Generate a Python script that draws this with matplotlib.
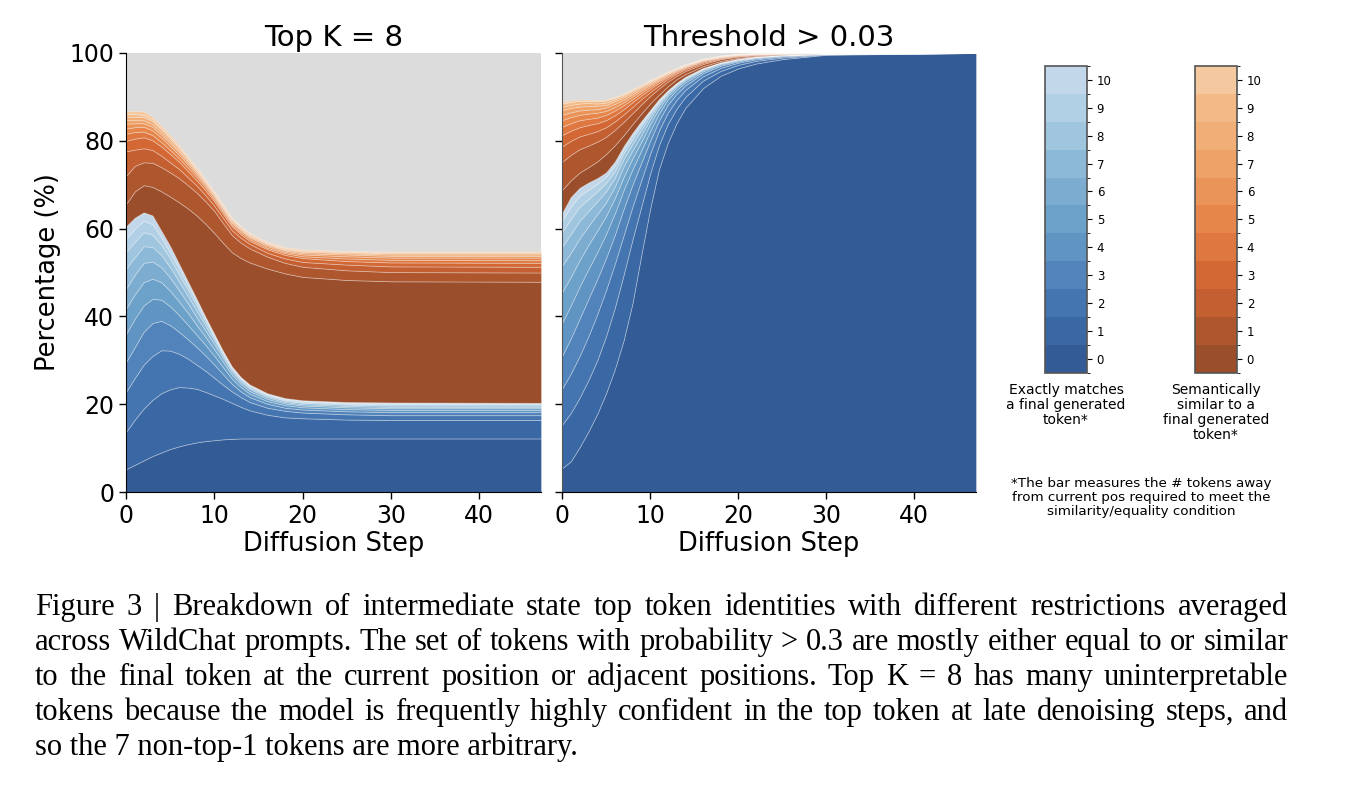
import numpy as np
import matplotlib
matplotlib.use("Agg")
import matplotlib as mpl
import matplotlib.pyplot as plt
from matplotlib.colors import ListedColormap, BoundaryNorm
from matplotlib.ticker import FixedLocator

# ---------------- data (cumulative % boundaries, distance 0..10) ----------------
topk_steps = [0, 1, 2, 3, 4, 5, 6, 7, 8, 9, 10, 11, 12, 13, 14, 16, 18, 20, 25, 30, 47]
topk_exact_cum = [
    [5.2, 13.7, 22.8, 29.6, 36.0, 41.8, 46.3, 50.9, 54.7, 57.7, 60.5],
    [6.2, 16.5, 26.0, 33.0, 39.5, 45.0, 49.5, 53.5, 57.0, 60.0, 62.5],
    [7.2, 19.0, 29.0, 36.5, 42.5, 47.8, 52.2, 56.0, 59.2, 61.8, 63.7],
    [8.2, 21.0, 31.0, 38.5, 44.0, 48.6, 52.5, 55.8, 58.6, 61.0, 63.0],
    [9.0, 22.5, 32.3, 39.0, 43.8, 47.8, 51.2, 54.0, 56.3, 58.0, 59.5],
    [9.8, 23.4, 32.2, 38.0, 42.3, 45.8, 48.8, 51.2, 53.2, 54.6, 56.0],
    [10.4, 23.9, 31.5, 36.5, 40.3, 43.4, 46.0, 48.0, 49.6, 50.9, 52.0],
    [10.9, 23.8, 30.4, 34.8, 38.1, 40.8, 43.0, 44.7, 46.1, 47.1, 48.0],
    [11.3, 23.5, 29.0, 33.0, 35.8, 38.0, 39.8, 41.3, 42.5, 43.3, 44.0],
    [11.6, 22.8, 27.6, 31.1, 33.5, 35.3, 36.8, 37.9, 38.8, 39.4, 39.9],
    [11.8, 22.0, 26.0, 29.0, 31.0, 32.5, 33.7, 34.6, 35.2, 35.6, 36.0],
    [12.0, 21.2, 24.4, 26.8, 28.4, 29.6, 30.5, 31.1, 31.5, 31.8, 32.1],
    [12.1, 20.3, 22.9, 24.6, 25.8, 26.7, 27.3, 27.8, 28.1, 28.4, 28.6],
    [12.2, 19.4, 21.6, 22.9, 23.9, 24.6, 25.1, 25.5, 25.8, 26.0, 26.2],
    [12.2, 18.6, 20.5, 21.6, 22.4, 23.0, 23.5, 23.8, 24.1, 24.3, 24.5],
    [12.2, 17.6, 19.2, 20.1, 20.7, 21.2, 21.6, 21.9, 22.1, 22.3, 22.5],
    [12.2, 17.0, 18.5, 19.2, 19.8, 20.2, 20.5, 20.8, 21.0, 21.2, 21.4],
    [12.2, 16.8, 18.1, 18.8, 19.3, 19.7, 20.0, 20.3, 20.5, 20.7, 20.9],
    [12.2, 16.5, 17.7, 18.4, 18.9, 19.3, 19.6, 19.9, 20.1, 20.3, 20.5],
    [12.2, 16.4, 17.5, 18.2, 18.7, 19.1, 19.4, 19.7, 19.95, 20.15, 20.4],
    [12.2, 16.4, 17.5, 18.2, 18.7, 19.1, 19.4, 19.7, 19.95, 20.15, 20.3],
]
topk_similar_cum = [
    [65.6, 72.0, 77.6, 80.0, 81.6, 82.8, 83.9, 84.7, 85.5, 86.1, 86.8],
    [68.5, 74.3, 78.0, 80.5, 82.0, 83.1, 84.0, 84.7, 85.5, 86.1, 86.8],
    [69.9, 75.1, 78.3, 80.8, 82.1, 83.2, 84.0, 84.7, 85.4, 85.9, 86.7],
    [69.5, 75.0, 77.9, 80.1, 81.3, 82.4, 83.2, 83.8, 84.5, 84.9, 85.5],
    [68.5, 74.0, 76.6, 78.7, 79.7, 80.7, 81.4, 82.0, 82.6, 83.0, 83.5],
    [67.3, 72.8, 75.1, 77.0, 77.9, 78.8, 79.4, 79.9, 80.5, 80.8, 81.3],
    [66.0, 71.5, 73.6, 75.2, 76.0, 76.8, 77.4, 77.8, 78.3, 78.6, 79.0],
    [64.6, 69.9, 71.7, 73.1, 73.9, 74.6, 75.1, 75.5, 75.9, 76.2, 76.5],
    [63.0, 68.2, 69.8, 71.0, 71.7, 72.3, 72.7, 73.1, 73.4, 73.7, 74.0],
    [61.1, 66.2, 67.6, 68.7, 69.3, 69.8, 70.2, 70.5, 70.8, 71.1, 71.3],
    [59.0, 64.0, 65.2, 66.2, 66.7, 67.2, 67.5, 67.8, 68.0, 68.3, 68.5],
    [56.7, 61.2, 62.4, 63.3, 63.8, 64.2, 64.5, 64.8, 65.0, 65.3, 65.5],
    [54.6, 58.5, 59.6, 60.5, 60.9, 61.3, 61.6, 61.9, 62.1, 62.3, 62.5],
    [53.3, 56.8, 57.9, 58.7, 59.1, 59.5, 59.8, 60.0, 60.3, 60.5, 60.6],
    [52.3, 55.5, 56.5, 57.2, 57.6, 58.0, 58.2, 58.4, 58.7, 58.8, 59.0],
    [50.9, 53.6, 54.5, 55.3, 55.6, 56.0, 56.3, 56.5, 56.7, 56.8, 57.0],
    [49.8, 52.2, 53.2, 54.0, 54.4, 54.7, 55.0, 55.2, 55.4, 55.6, 55.8],
    [49.0, 51.3, 52.4, 53.3, 53.7, 54.1, 54.4, 54.7, 54.9, 55.1, 55.3],
    [48.3, 50.5, 51.8, 52.6, 53.2, 53.7, 54.1, 54.4, 54.6, 54.8, 54.9],
    [48.0, 50.1, 51.4, 52.3, 52.9, 53.4, 53.8, 54.1, 54.4, 54.6, 54.8],
    [47.9, 50.0, 51.3, 52.2, 52.8, 53.4, 53.8, 54.1, 54.4, 54.6, 54.8],
]

thr_steps = [0, 1, 2, 3, 4, 5, 6, 7, 8, 9, 10, 11, 12, 13, 14, 16, 18, 20, 22, 25, 30, 47]
thr_exact_cum = [
    [5.4, 15.3, 23.5, 31.0, 38.5, 45.5, 51.5, 55.8, 59.2, 61.8, 63.5],
    [7.0, 18.0, 27.0, 35.0, 42.5, 49.0, 54.5, 58.8, 62.2, 65.0, 67.2],
    [10.2, 21.5, 31.0, 39.5, 46.8, 52.8, 57.8, 61.8, 65.0, 67.5, 69.3],
    [13.8, 25.5, 35.5, 44.0, 50.8, 56.3, 60.6, 64.0, 66.7, 68.8, 70.5],
    [17.8, 30.0, 40.5, 48.5, 54.6, 59.5, 63.3, 66.2, 68.5, 70.2, 71.5],
    [22.5, 35.5, 46.0, 53.3, 58.8, 62.9, 66.0, 68.5, 70.4, 71.8, 72.8],
    [28.0, 42.0, 52.0, 58.6, 63.5, 67.0, 69.6, 71.6, 73.1, 74.4, 75.3],
    [34.6, 49.5, 58.5, 64.5, 68.8, 71.8, 74.2, 75.9, 77.2, 78.1, 78.8],
    [43.0, 57.5, 65.0, 70.0, 73.5, 76.0, 77.8, 79.3, 80.4, 81.2, 81.8],
    [54.0, 65.0, 71.0, 75.0, 77.8, 79.8, 81.3, 82.5, 83.4, 84.0, 84.5],
    [64.5, 72.5, 77.0, 80.0, 82.2, 83.8, 84.9, 85.7, 86.3, 86.7, 87.0],
    [73.5, 79.0, 82.3, 84.6, 86.2, 87.3, 88.1, 88.6, 89.0, 89.3, 89.5],
    [79.5, 83.8, 86.4, 88.2, 89.4, 90.2, 90.7, 91.0, 91.2, 91.4, 91.5],
    [84.0, 87.3, 89.3, 90.7, 91.6, 92.2, 92.6, 92.85, 93.0, 93.1, 93.2],
    [87.5, 90.0, 91.6, 92.6, 93.3, 93.8, 94.1, 94.3, 94.45, 94.55, 94.6],
    [92.0, 93.7, 94.7, 95.4, 95.8, 96.1, 96.3, 96.4, 96.5, 96.55, 96.6],
    [94.8, 95.9, 96.6, 97.1, 97.4, 97.6, 97.7, 97.8, 97.85, 97.88, 97.9],
    [96.5, 97.3, 97.8, 98.1, 98.3, 98.45, 98.55, 98.6, 98.65, 98.68, 98.7],
    [97.6, 98.2, 98.55, 98.8, 98.95, 99.05, 99.1, 99.14, 99.17, 99.19, 99.2],
    [98.6, 98.95, 99.2, 99.35, 99.45, 99.5, 99.54, 99.56, 99.58, 99.59, 99.6],
    [99.6, 99.7, 99.77, 99.82, 99.85, 99.87, 99.88, 99.89, 99.9, 99.9, 99.9],
    [100, 100, 100, 100, 100, 100, 100, 100, 100, 100, 100],
]
thr_similar_cum = [
    [68.8, 75.2, 78.7, 81.3, 83.2, 84.7, 85.9, 87.0, 87.8, 88.5, 88.9],
    [71.0, 76.8, 80.0, 82.3, 84.0, 85.4, 86.5, 87.5, 88.2, 88.8, 89.2],
    [72.8, 78.1, 81.0, 83.1, 84.7, 85.9, 86.9, 87.8, 88.5, 89.1, 89.4],
    [74.0, 78.9, 81.6, 83.6, 85.0, 86.2, 87.1, 87.9, 88.6, 89.1, 89.4],
    [75.3, 79.8, 82.2, 84.0, 85.3, 86.4, 87.2, 88.0, 88.5, 89.0, 89.3],
    [77.0, 80.9, 83.1, 84.7, 85.9, 86.8, 87.6, 88.2, 88.7, 89.2, 89.4],
    [79.0, 82.5, 84.4, 85.8, 86.9, 87.7, 88.4, 89.0, 89.4, 89.8, 90.0],
    [81.3, 84.3, 86.0, 87.2, 88.1, 88.8, 89.4, 89.9, 90.3, 90.6, 90.8],
    [83.8, 86.3, 87.7, 88.8, 89.5, 90.1, 90.6, 91.0, 91.4, 91.6, 91.8],
    [86.2, 88.3, 89.5, 90.3, 90.9, 91.4, 91.8, 92.2, 92.4, 92.7, 92.8],
    [88.5, 90.2, 91.1, 91.8, 92.3, 92.7, 93.0, 93.3, 93.5, 93.7, 93.8],
    [90.5, 91.9, 92.6, 93.2, 93.6, 93.9, 94.2, 94.4, 94.6, 94.7, 94.8],
    [92.4, 93.5, 94.1, 94.5, 94.8, 95.1, 95.3, 95.5, 95.6, 95.7, 95.8],
    [94.0, 94.8, 95.3, 95.6, 95.9, 96.1, 96.2, 96.35, 96.45, 96.55, 96.6],
    [95.2, 95.9, 96.3, 96.6, 96.8, 96.9, 97.1, 97.2, 97.3, 97.35, 97.4],
    [97.0, 97.5, 97.8, 98.1, 98.2, 98.35, 98.45, 98.55, 98.6, 98.65, 98.7],
    [98.2, 98.6, 98.8, 98.95, 99.05, 99.15, 99.2, 99.3, 99.33, 99.37, 99.4],
    [98.9, 99.2, 99.35, 99.45, 99.55, 99.6, 99.65, 99.7, 99.75, 99.78, 99.8],
    [99.3, 99.5, 99.6, 99.7, 99.75, 99.8, 99.85, 99.88, 99.9, 99.93, 99.95],
    [99.7, 99.8, 99.85, 99.9, 99.92, 99.94, 99.96, 99.97, 99.98, 99.99, 100.0],
    [99.95, 99.97, 99.98, 99.99, 100, 100, 100, 100, 100, 100, 100],
    [100, 100, 100, 100, 100, 100, 100, 100, 100, 100, 100],
]

distances = list(range(11))
titles = ["Top K = 8", "Threshold > 0.03"]
caption_lines = [
    "Figure 3 | Breakdown of intermediate state top token identities with different restrictions averaged",
    "across WildChat prompts. The set of tokens with probability > 0.3 are mostly either equal to or similar",
    "to the final token at the current position or adjacent positions. Top K = 8 has many uninterpretable",
    "tokens because the model is frequently highly confident in the top token at late denoising steps, and",
    "so the 7 non-top-1 tokens are more arbitrary.",
]

# ---------------- styles ----------------
blues = ["#335b96", "#3968a5", "#4575b0", "#5284bb", "#5f94c3", "#6ca1c9",
         "#7cadd1", "#8db9d8", "#9fc5df", "#b1d0e5", "#c3d7eb"]
oranges = ["#9b4e2c", "#ae562d", "#c35f31", "#d36834", "#de7840", "#e6864b",
           "#eb9459", "#efa267", "#f1ae77", "#f3ba88", "#f5c99f"]
W, H = 1366, 788

fig = plt.figure(figsize=(W / 100, H / 100), dpi=100)


def fx(px):
    return px / W


def fy(py):
    return 1 - py / H


ax1 = fig.add_axes([fx(126), fy(492), fx(415), 439 / H])
ax2 = fig.add_axes([fx(562), fy(492), fx(414), 439 / H])


def draw(ax, steps, exact_cum, sim_cum, title, show_ylabels):
    ec = np.array(exact_cum, dtype=float).T
    sc = np.array(sim_cum, dtype=float).T
    n = ec.shape[1]
    exact = np.diff(np.vstack([np.zeros((1, n)), ec]), axis=0)
    sim = np.diff(np.vstack([ec[-1:], sc]), axis=0)
    ax.stackplot(steps, *exact, *sim, colors=blues + oranges,
                 edgecolor=(1, 1, 1, 0.35), linewidth=0.6)
    ax.set_facecolor("#dcdcdc")
    ax.set_xlim(0, 47)
    ax.set_ylim(0, 100)
    ax.set_xticks([0, 10, 20, 30, 40])
    ax.set_yticks([0, 20, 40, 60, 80, 100])
    for s in ["top", "right"]:
        ax.spines[s].set_visible(False)
    ax.tick_params(labelsize=17, length=5, width=1)
    if not show_ylabels:
        ax.set_yticklabels([])
        ax.spines["left"].set_color("#555555")
    ax.set_xlabel("Diffusion Step", fontsize=18.5, labelpad=2)
    ax.set_title(title, fontsize=21, pad=5)


draw(ax1, topk_steps, topk_exact_cum, topk_similar_cum, titles[0], True)
draw(ax2, thr_steps, thr_exact_cum, thr_similar_cum, titles[1], False)
ax1.set_ylabel("Percentage (%)", fontsize=18.5, labelpad=6)

# ---------------- colorbars ----------------
bounds = np.arange(-0.5, 11.5, 1)
for left, cols, label, cx in [
    (1045, blues, "Exactly matches\na final generated\ntoken*", 1066),
    (1195, oranges, "Semantically\nsimilar to a\nfinal generated\ntoken*", 1216),
]:
    cax = fig.add_axes([fx(left), fy(372.7), fx(42), 306.7 / H])
    sm = mpl.cm.ScalarMappable(norm=BoundaryNorm(bounds, len(cols)),
                               cmap=ListedColormap(cols))
    cb = fig.colorbar(sm, cax=cax, ticks=distances)
    cb.ax.tick_params(labelsize=8.5, length=3.5, width=0.8)
    cb.ax.yaxis.set_minor_locator(FixedLocator(bounds))
    cb.ax.tick_params(which="minor", length=2, width=0.6)
    cb.outline.set_edgecolor("#555555")
    cb.outline.set_linewidth(1.2)
    fig.text(fx(cx), fy(383), label, ha="center", va="top", fontsize=10,
             linespacing=1.1)

fig.text(fx(1141), fy(477),
         "*The bar measures the # tokens away\nfrom current pos required to meet the\nsimilarity/equality condition",
         ha="center", va="top", fontsize=9.7, linespacing=1.1)

# ---------------- caption (justified lines) ----------------
renderer = fig.canvas.get_renderer()
cap_left, cap_right = 35, 1288
cap_size = 22
for i, line in enumerate(caption_lines):
    ybase = fy(615 + 35 * i)
    if i == len(caption_lines) - 1:
        fig.text(fx(cap_left), ybase, line, ha="left", va="baseline",
                 fontsize=cap_size, family="Liberation Serif")
        continue
    words = line.split(" ")
    texts = [fig.text(0, ybase, w, ha="left", va="baseline",
                      fontsize=cap_size, family="Liberation Serif") for w in words]
    widths = [t.get_window_extent(renderer).width for t in texts]
    gap = (cap_right - cap_left - sum(widths)) / (len(words) - 1)
    xpos = cap_left
    for t, wd in zip(texts, widths):
        t.set_x(fx(xpos))
        xpos += wd + gap

fig.savefig("out.png", dpi=100)
